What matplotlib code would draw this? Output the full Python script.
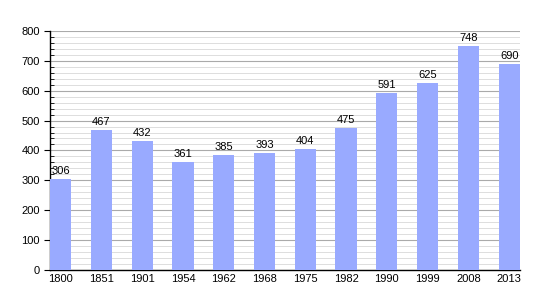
import matplotlib
matplotlib.use('Agg')
import matplotlib.pyplot as plt
import numpy as np
from matplotlib.ticker import MultipleLocator

plt.rcParams['font.family'] = ['Liberation Sans', 'DejaVu Sans']

years = ['1800', '1851', '1901', '1954', '1962', '1968', '1975', '1982',
         '1990', '1999', '2008', '2013']
population = [306, 467, 432, 361, 385, 393, 404, 475, 591, 625, 748, 690]

fig = plt.figure(figsize=(5.5, 3), dpi=100)
ax = fig.add_axes([0.091, 0.1, 0.854, 0.797])

x = np.arange(len(years))
w = 0.52
ax.bar(x, population, width=w, color='#99aaff', zorder=3)

# value labels above bars
for xi, v in zip(x, population):
    ax.text(xi, v + 10, str(v), ha='center', va='bottom', fontsize=8, zorder=4)

ax.set_xlim(-w / 2, len(years) - 1 + w / 2)
ax.set_ylim(0, 800)
ax.set_xticks(x)
ax.set_xticklabels(years, fontsize=8)
ax.yaxis.set_major_locator(MultipleLocator(100))
ax.yaxis.set_minor_locator(MultipleLocator(20))
ax.tick_params(axis='y', labelsize=8, which='major', length=4, direction='out')
ax.tick_params(axis='y', which='minor', length=3, direction='in')
ax.tick_params(axis='x', length=0, pad=3)

ax.grid(axis='y', which='major', color='#aaaaaa', linewidth=0.8, zorder=0)
ax.grid(axis='y', which='minor', color='#d8d8d8', linewidth=0.6, zorder=0)

for s in ['top', 'right']:
    ax.spines[s].set_visible(False)
ax.spines['left'].set_linewidth(1)
ax.spines['bottom'].set_linewidth(1)

fig.savefig('out.png', dpi=100)
